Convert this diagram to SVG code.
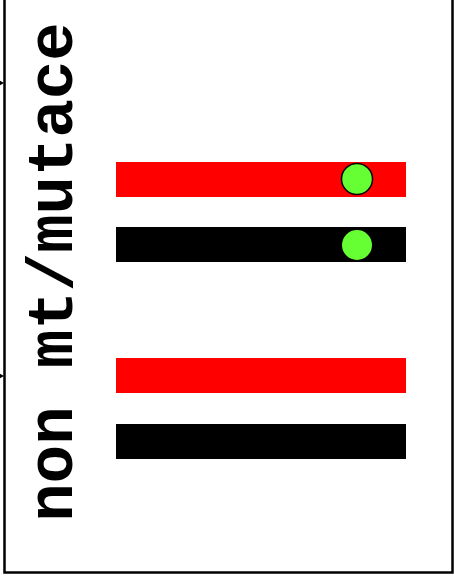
<svg xmlns="http://www.w3.org/2000/svg" width="454" height="580" viewBox="0 0 454 580">
<style>
.frame{fill:#fff;stroke:#000;stroke-width:2.5}
.red{fill:#ff0000}
.blk{fill:#000}
.dot{fill:#66ff33}
.label{font-family:"Liberation Mono","Courier New",monospace;font-weight:bold;font-size:64px;fill:#000}
.arrow{fill:#000}
</style>
<rect class="frame" x="4.5" y="-5" width="448" height="577.5"/>
<g id="connectors">
<polygon class="arrow" points="-8,76 4,83 -8,90"/>
<polygon class="arrow" points="-8,369 4,376 -8,383"/>
</g>
<g id="label">
<text class="label" transform="translate(72,272) rotate(-90)" text-anchor="middle">non mt/mutace</text>
</g>
<g id="pair1">
<rect class="red" x="116" y="162" width="290" height="35"/>
<rect class="blk" x="116" y="227" width="290" height="35"/>
<circle class="dot" cx="357" cy="179" r="15.5" stroke="#000" stroke-width="1.5"/>
<circle class="dot" cx="357" cy="245" r="15"/>
</g>
<g id="pair2">
<rect class="red" x="116" y="358" width="290" height="35"/>
<rect class="blk" x="116" y="424" width="290" height="35"/>
</g>
</svg>
